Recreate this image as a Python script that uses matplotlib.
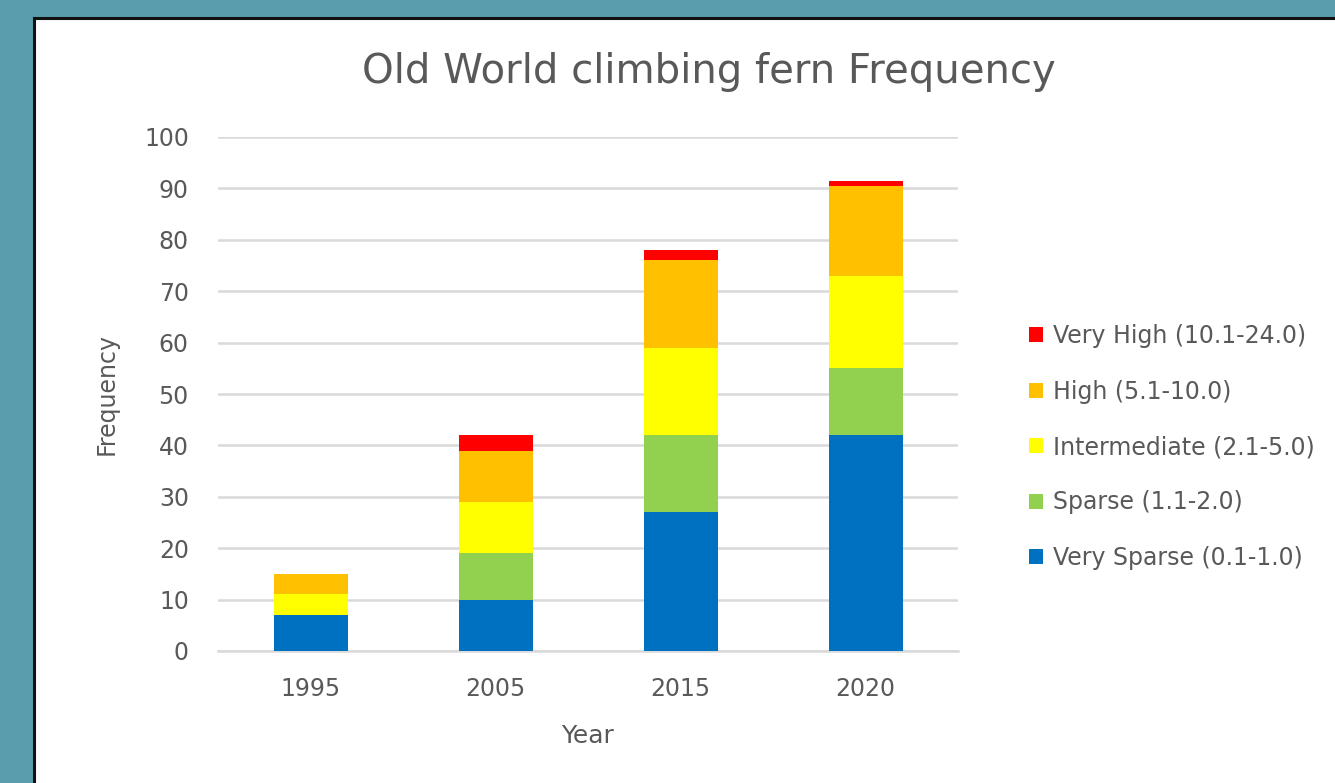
import numpy as np
import matplotlib.pyplot as plt
from matplotlib.patches import Rectangle
from matplotlib.lines import Line2D

# Frequency of each density class per survey year
years = ['1995', '2005', '2015', '2020']
very_sparse = [7, 10, 27, 42]
sparse = [0, 9, 15, 13]
intermediate = [4, 10, 17, 18]
high = [4, 10, 17, 17.5]
very_high = [0, 3, 2, 1]

labels = ['Very Sparse (0.1-1.0)', 'Sparse (1.1-2.0)', 'Intermediate (2.1-5.0)',
          'High (5.1-10.0)', 'Very High (10.1-24.0)']
colors = ['#0070c0', '#92d050', '#ffff00', '#ffc000', '#ff0000']

plt.rcParams['font.family'] = ['DejaVu Sans']
text_gray = '#595959'
grid_gray = '#d9d9d9'

fig = plt.figure(figsize=(13.35, 7.83), dpi=100, facecolor='#5a9dad')
W, H = 1335, 783

# white slide panel with dark edge on top and left
fig.patches.append(Rectangle((34 / W, 0), 1 - 34 / W, 1 - 18 / H, transform=fig.transFigure,
                             facecolor='white', edgecolor='none', zorder=-2))
fig.lines.append(Line2D([34 / W, 34 / W], [0, 1 - 18 / H], transform=fig.transFigure,
                        color='#111111', linewidth=2.2, zorder=-1))
fig.lines.append(Line2D([34 / W, 1], [1 - 18 / H, 1 - 18 / H], transform=fig.transFigure,
                        color='#111111', linewidth=2.2, zorder=-1))

ax = fig.add_axes([218 / W, (H - 651) / H, 740 / W, 514 / H])
ax.set_zorder(1)
ax.set_facecolor('white')

x = np.arange(len(years))
series = [very_sparse, sparse, intermediate, high, very_high]
bottom = np.zeros(len(years))
handles = []
for vals, lab, col in zip(series, labels, colors):
    h = ax.bar(x, vals, width=0.4, bottom=bottom, color=col, label=lab, zorder=3)
    handles.append(h)
    bottom += np.array(vals, dtype=float)

ax.set_xlim(-0.5, 3.5)
ax.set_ylim(0, 100)
ax.set_yticks(range(0, 101, 10))
ax.set_xticks(x)
ax.set_xticklabels(years)
ax.yaxis.grid(True, color=grid_gray, linewidth=1.8, zorder=0)
ax.axhline(0, color=grid_gray, linewidth=1.8, clip_on=False, zorder=1)
ax.set_axisbelow(True)
for s in ax.spines.values():
    s.set_visible(False)
ax.tick_params(axis='both', length=0, labelsize=17, colors=text_gray)
ax.tick_params(axis='y', pad=21)
ax.tick_params(axis='x', pad=19)

ax.set_xlabel('Year', fontsize=18, color=text_gray, labelpad=16)
ax.set_ylabel('Frequency', fontsize=17, color=text_gray, labelpad=18)

fig.text(709 / W, 1 - 72 / H, 'Old World climbing fern Frequency', ha='center', va='center',
         fontsize=29, color=text_gray)

fig.legend(handles[::-1], labels[::-1], loc='center left',
           bbox_to_anchor=(1008 / W, 1 - 447 / H), frameon=False, fontsize=17,
           labelcolor=text_gray, handlelength=0.6, handleheight=0.6,
           handletextpad=0.4, labelspacing=1.33)

fig.savefig('out.png', dpi=100, facecolor=fig.get_facecolor())
